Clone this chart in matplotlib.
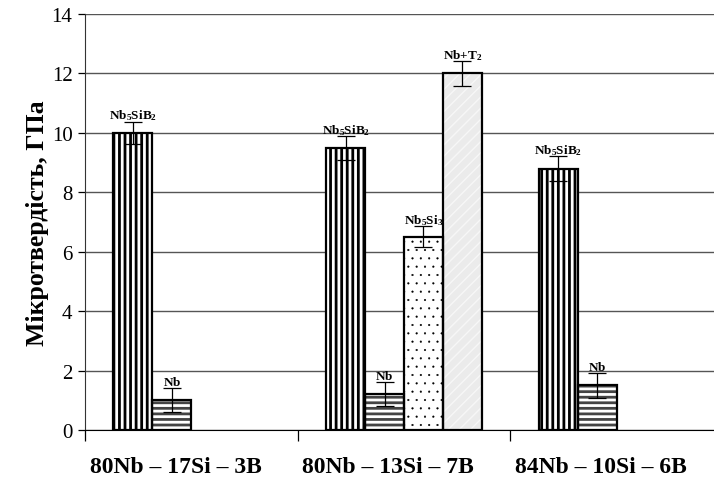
import matplotlib
matplotlib.use('Agg')
import matplotlib.pyplot as plt
import numpy as np

plt.rcParams['font.family'] = ['Liberation Serif', 'DejaVu Serif']
plt.rcParams['mathtext.fontset'] = 'custom'
plt.rcParams['mathtext.rm'] = 'Liberation Serif'
plt.rcParams['mathtext.bf'] = 'Liberation Serif:bold'

# data
alloys = ['80Nb – 17Si – 3B', '80Nb – 13Si – 7B', '84Nb – 10Si – 6B']
phases = [r'$\mathbf{Nb_5SiB_2}$', r'$\mathbf{Nb}$', r'$\mathbf{Nb_5Si_3}$', r'$\mathbf{Nb{+}T_2}$']
nb5sib2 = [10.0, 9.5, 8.8]
nb = [1.0, 1.2, 1.5]
nb5si3 = [np.nan, 6.5, np.nan]
nb_t2 = [np.nan, 12.0, np.nan]
errors = [
    [0.38, 0.4, 0.42],
    [0.4, 0.4, 0.42],
    [np.nan, 0.35, np.nan],
    [np.nan, 0.42, np.nan],
]
series = [nb5sib2, nb, nb5si3, nb_t2]

styles = [
    dict(facecolor='white', hatch_color='black', hatch='|||', hlw=2.0),
    dict(facecolor='white', hatch_color='#444444', hatch='---', hlw=2.0),
    dict(facecolor='white', hatch_color='black', hatch='..', hlw=0.3),
    dict(facecolor='#ebebeb', hatch_color='#f7f7f7', hatch='///', hlw=1.0),
]

fig = plt.figure(figsize=(7.14, 4.81), dpi=100)
ax = fig.add_axes([85 / 714, 50 / 481, 638 / 714, 416 / 481])

x = np.arange(len(alloys))
width = 0.183
for i, (vals, st) in enumerate(zip(series, styles)):
    pos = x + (i - 1.5) * width
    v = np.array(vals, dtype=float)
    ok = ~np.isnan(v)
    # hatch layer
    with plt.rc_context({'hatch.linewidth': st['hlw']}):
        ax.bar(pos[ok], v[ok], width, color=st['facecolor'], edgecolor=st['hatch_color'],
               hatch=st['hatch'], linewidth=0, zorder=2)
    # outline
    ax.bar(pos[ok], v[ok], width, fill=False, edgecolor='black', linewidth=1.6, zorder=3)
    e = np.array(errors[i], dtype=float)
    ax.errorbar(pos[ok], v[ok], yerr=e[ok], fmt='none', ecolor='black',
                elinewidth=0.9, capsize=6.5, capthick=0.9, zorder=4)
    for p, val, err in zip(pos[ok], v[ok], e[ok]):
        ax.text(p, val + err + 0.22, phases[i], ha='center', va='center',
                fontsize=9.5, zorder=5)

ax.set_xlim(-0.5, 2.5)
ax.set_ylim(0, 14)
ax.set_yticks(np.arange(0, 15, 2))
ax.yaxis.grid(True, color='#555555', linewidth=1.0, zorder=0)
ax.set_axisbelow(True)

ax.set_xticks([-0.5, 0.5, 1.5])
ax.set_xticklabels([])
ax.tick_params(axis='x', direction='out', length=8, width=0.9)
ax.tick_params(axis='y', direction='out', length=5, width=0.9, labelsize=15, pad=4)

for i, name in enumerate(alloys):
    ax.text(i - 0.075, -0.087, name, transform=ax.get_xaxis_transform(),
            ha='center', va='center', fontsize=17, fontweight='bold')

ax.set_ylabel('Мікротвердість, ГПа', fontsize=18.5, fontweight='bold', labelpad=2)

ax.spines['top'].set_visible(False)
ax.spines['right'].set_visible(False)
ax.spines['left'].set_color('#333333')
ax.spines['bottom'].set_color('black')

fig.savefig('out.png', dpi=100)
